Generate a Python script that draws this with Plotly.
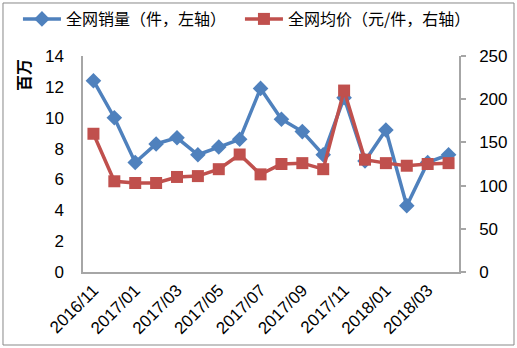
import plotly.graph_objects as go

# Monthly categories
months = ["2016/11", "2016/12", "2017/01", "2017/02", "2017/03", "2017/04",
          "2017/05", "2017/06", "2017/07", "2017/08", "2017/09", "2017/10",
          "2017/11", "2017/12", "2018/01", "2018/02", "2018/03", "2018/04"]

# Online sales volume (millions of items, left axis)
sales_volume = [12.4, 10.0, 7.1, 8.3, 8.7, 7.6, 8.1, 8.6, 11.9, 9.9,
                9.1, 7.6, 11.3, 7.2, 9.2, 4.3, 7.1, 7.6]

# Online average price (yuan per item, right axis)
avg_price = [160, 105, 103, 103, 110, 111, 119, 136, 113, 125,
             126, 119, 210, 130, 126, 123, 125, 126]

BLUE = "#4F81BD"
RED = "#C0504D"
AXIS_GREY = "#A6A6A6"
TICK_FONT = dict(family="Liberation Sans, Arial, sans-serif", size=17, color="#000000")

fig = go.Figure()

fig.add_trace(go.Scatter(
    x=months, y=sales_volume, name="全网销量（件，左轴）",
    mode="lines+markers",
    line=dict(color=BLUE, width=3.5),
    marker=dict(symbol="diamond", size=12, color=BLUE),
    yaxis="y",
))

fig.add_trace(go.Scatter(
    x=months, y=avg_price, name="全网均价（元/件，右轴）",
    mode="lines+markers",
    line=dict(color=RED, width=3.5),
    marker=dict(symbol="square", size=12, color=RED),
    yaxis="y2",
))

fig.update_layout(
    width=517, height=348, autosize=False,
    margin=dict(l=83, r=58, t=56, b=76, autoexpand=False),
    paper_bgcolor="white", plot_bgcolor="white",
    showlegend=True,
    legend=dict(
        orientation="h",
        x=-0.173, y=1.25, xanchor="left", yanchor="top",
        font=dict(family="Noto Sans CJK SC", size=16, color="#000000"),
        itemwidth=38,
        entrywidth=169, entrywidthmode="pixels",
        bgcolor="rgba(0,0,0,0)",
    ),
    xaxis=dict(
        type="category",
        tickmode="array",
        tickvals=months[::2],
        ticktext=months[::2],
        tickangle=-45,
        tickfont=TICK_FONT,
        showline=True, linecolor=AXIS_GREY, linewidth=1.5,
        showgrid=False, zeroline=False,
        ticks="",
        range=[-0.5, len(months) - 0.5],
    ),
    yaxis=dict(
        range=[0, 14], dtick=2,
        tickfont=TICK_FONT,
        showline=True, linecolor=AXIS_GREY, linewidth=1.5,
        showgrid=False, zeroline=False,
        ticks="",
        ticklabelstandoff=14,
    ),
    yaxis2=dict(
        range=[0, 250], dtick=50,
        overlaying="y", side="right",
        tickfont=TICK_FONT,
        showline=True, linecolor=AXIS_GREY, linewidth=1.5,
        showgrid=False, zeroline=False,
        ticks="outside", ticklen=5, tickcolor=AXIS_GREY, tickwidth=1.5,
        ticklabelstandoff=10,
    ),
    annotations=[dict(
        text="<b>百万</b>", textangle=-90,
        xref="paper", yref="paper",
        x=-0.158, y=0.91, xanchor="center", yanchor="middle",
        showarrow=False,
        font=dict(family="Noto Sans CJK SC", size=16, color="#000000"),
    )],
    shapes=[dict(
        type="rect", xref="paper", yref="paper",
        x0=-0.2128, x1=1.1463, y0=-0.338, y1=1.2454,
        line=dict(color="#898989", width=1),
        fillcolor="rgba(0,0,0,0)",
        layer="below",
    )],
)

fig.write_html("out.html")
